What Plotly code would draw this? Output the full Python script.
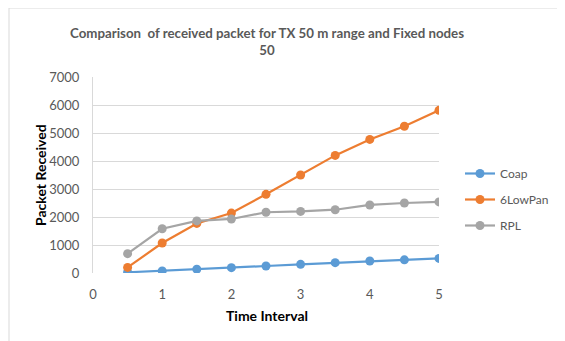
import plotly.graph_objects as go

time_interval = [0.5, 1, 1.5, 2, 2.5, 3, 3.5, 4, 4.5, 5]
coap = [25, 75, 135, 190, 250, 310, 370, 430, 470, 520]
lowpan = [200, 1070, 1770, 2140, 2810, 3500, 4200, 4770, 5240, 5810]
rpl = [690, 1580, 1860, 1930, 2170, 2200, 2260, 2430, 2500, 2540]

series = [("Coap", coap, "#5B9BD5"), ("6LowPan", lowpan, "#ED7D31"), ("RPL", rpl, "#A5A5A5")]

FONT = "Lato, Open Sans, sans-serif"
GRAY = "#595959"

fig = go.Figure()
for name, vals, col in series:
    fig.add_trace(go.Scatter(x=time_interval, y=vals, name=name, mode="lines+markers",
                             legendgroup=name,
                             line=dict(color=col, width=2.2),
                             marker=dict(color=col, size=9)))

# page body has an 8px margin: figure is placed at (8, 8)
OFF = 8
W, H = 565 - OFF, 341 - OFF
# plot area in page pixels
X0, X1, Y0, Y1 = 93, 439, 77, 273
L, R, T, B = X0 - OFF, W - (X1 - OFF), Y0 - OFF, H - (Y1 - OFF)
pw, ph = X1 - X0, Y1 - Y0

def px(x):
    return (x - X0) / pw

def py(y):
    return (Y1 - y) / ph

fig.update_layout(
    width=W, height=H,
    margin=dict(l=L, r=R, t=T, b=B, autoexpand=False),
    paper_bgcolor="white", plot_bgcolor="white",
    font=dict(family=FONT, color=GRAY, size=12),
    xaxis=dict(range=[0, 5], dtick=1, showgrid=False, zeroline=False, automargin=False,
               showline=False, ticks="outside", ticklen=9, tickcolor="rgba(0,0,0,0)",
               tickfont=dict(size=13, color=GRAY)),
    yaxis=dict(range=[0, 7000], dtick=1000, showgrid=True, gridcolor="#D9D9D9", gridwidth=1,
               zeroline=False, showline=True, linecolor="#D9D9D9", automargin=False,
               ticks="outside", ticklen=10, tickcolor="rgba(0,0,0,0)",
               tickfont=dict(size=13, color=GRAY)),
    legend=dict(x=px(460), xanchor="left", y=py(159), yanchor="top",
                font=dict(size=12, color=GRAY), tracegroupgap=7,
                itemwidth=30, bgcolor="rgba(0,0,0,0)"),
    annotations=[
        dict(text="<b>Comparison  of received packet for TX 50 m range and Fixed nodes<br>50</b>",
             xref="paper", yref="paper", x=px(267), y=py(41), xanchor="center", yanchor="middle",
             showarrow=False, font=dict(size=13.3, color=GRAY, family=FONT)),
        dict(text="<b>Time Interval</b>", xref="paper", yref="paper", x=px(267), y=py(315),
             xanchor="center", yanchor="middle", showarrow=False,
             font=dict(size=14, color="#000000", family=FONT)),
        dict(text="<b>Packet Received</b>", xref="paper", yref="paper", x=px(40), y=py(175),
             xanchor="center", yanchor="middle", showarrow=False, textangle=-90,
             font=dict(size=14, color="#000000", family=FONT)),
    ],
    shapes=[dict(type="rect", xref="paper", yref="paper",
                 x0=px(9), x1=px(580), y0=py(360), y1=py(8),
                 line=dict(color="#D9D9D9", width=1), layer="below")],
)

fig.write_html("out.html")
